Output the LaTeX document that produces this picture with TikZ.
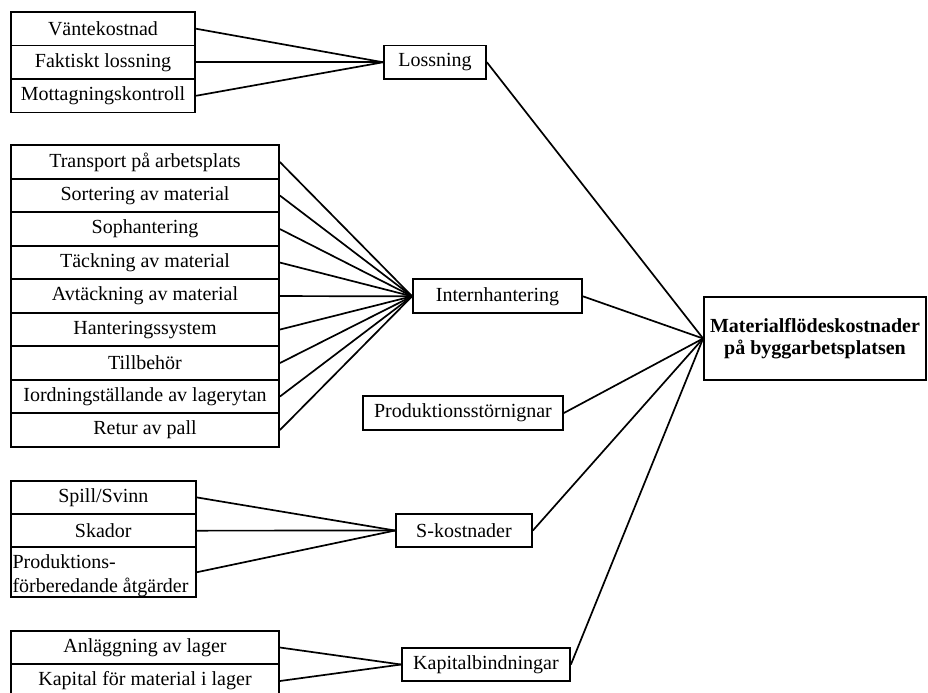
\documentclass[tikz,border=0pt]{standalone}
\usepackage{fontspec}
\setmainfont{Liberation Serif}
\begin{document}
\begin{tikzpicture}[x=0.5pt,y=-0.5pt,
  box/.style={draw, line width=0.9pt, inner sep=0pt, minimum height=16.75pt,
    font=\fontsize{10}{11.5}\selectfont},
  narrow/.style={box, minimum width=92.3pt},
  wide/.style={box, minimum width=134pt},
  link/.style={line width=0.85pt}]
\useasboundingbox (0,0) rectangle (928,692);

% --- Lossning group
\node[narrow] (l1) at (103,28.75) {Väntekostnad};
\node[narrow] (l2) at (103,62.25) {Faktiskt lossning};
\node[narrow] (l3) at (103,95.75) {Mottagningskontroll};
\node[box, minimum width=51pt] (loss) at (435,62.25) {Lossning};

% --- Internhantering group
\node[wide] (i1) at (145,162.05) {Transport på arbetsplats};
\node[wide] (i2) at (145,195.55) {Sortering av material};
\node[wide] (i3) at (145,229.05) {Sophantering};
\node[wide] (i4) at (145,262.55) {Täckning av material};
\node[wide] (i5) at (145,296.05) {Avtäckning av material};
\node[wide] (i6) at (145,329.55) {Hanteringssystem};
\node[wide] (i7) at (145,363.05) {Tillbehör};
\node[wide] (i8) at (145,396.55) {Iordningställande av lagerytan};
\node[wide] (i9) at (145,430.05) {Retur av pall};
\node[box, minimum width=84.5pt, minimum height=17pt] (intern) at (497.5,296.3) {Internhantering};

% --- Produktionsstörningar
\node[box, minimum width=100pt] (prod) at (463,413) {Produktionsstörnignar};

% --- S-kostnader group
\node[narrow, minimum height=16.65pt] (s1) at (103.3,497.35) {Spill/Svinn};
\node[narrow, minimum height=16.65pt] (s2) at (103.3,530.65) {Skador};
\node[narrow, minimum height=25pt] (s3) at (103.3,572.3) {};
\node[anchor=west, inner xsep=1pt, inner ysep=0pt, align=left,
  font=\fontsize{10}{11.8}\selectfont] (s3text) at ([yshift=-1.8pt]s3.west)
  {Produktions-\\förberedande åtgärder};
\node[box, minimum width=68pt] (skost) at (464,530.5) {S-kostnader};

% --- Kapitalbindningar group
\node[wide] (k1) at (145,647.5) {Anläggning av lager};
\node[wide] (k2) at (145,681) {Kapital för material i lager};
\node[box, minimum width=84pt] (kap) at (486,664.5) {Kapitalbindningar};

% --- Overall result
\node[box, minimum width=111pt, minimum height=41.75pt, align=center,
  font=\fontsize{10}{11.3}\selectfont\bfseries] (main) at (815,338.5)
  {Materialflödeskostnader\\på byggarbetsplatsen};

% --- Connectors
\foreach \n in {l1,l2,l3} \draw[link] (\n.east) -- (loss.west);
\foreach \n in {i1,i2,i3,i4,i5,i6,i7,i8,i9} \draw[link] (\n.east) -- (intern.west);
\foreach \n in {s1,s2,s3} \draw[link] (\n.east) -- (skost.west);
\foreach \n in {k1,k2} \draw[link] (\n.east) -- (kap.west);
\foreach \n in {loss,intern,prod,skost,kap} \draw[link] (\n.east) -- (main.west);
\end{tikzpicture}
\end{document}
